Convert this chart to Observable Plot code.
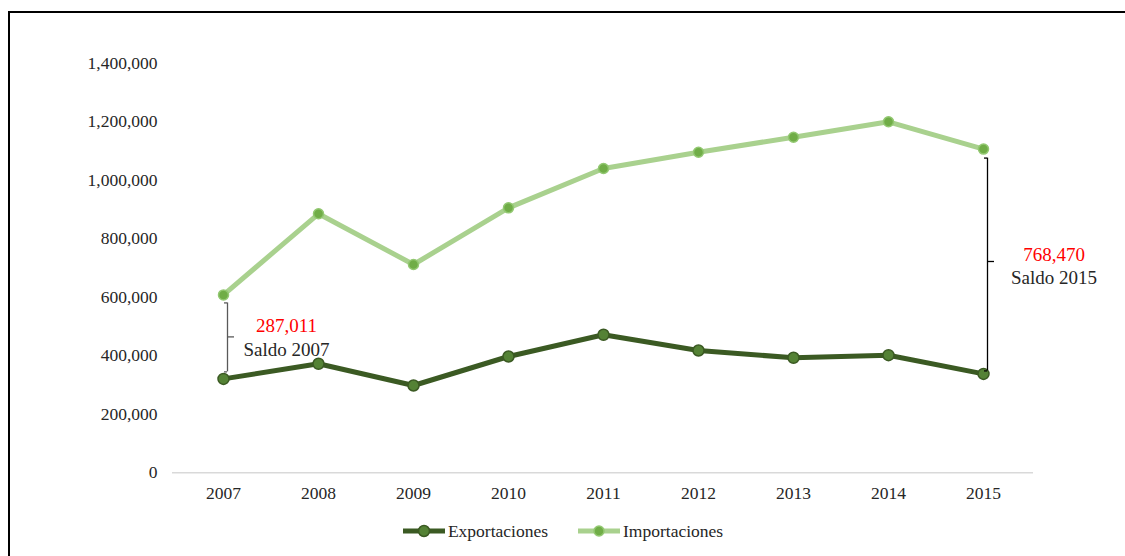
<!DOCTYPE html>
<html>
<head>
<meta charset="utf-8">
<script src="https://cdn.jsdelivr.net/npm/d3@7"></script>
<script src="https://cdn.jsdelivr.net/npm/@observablehq/plot@0.6"></script>
<style>
  html, body { margin: 0; padding: 0; background: #fff; }
  #page { position: relative; width: 1125px; height: 556px; overflow: hidden; font-family: "Liberation Serif", "Times New Roman", serif; }
  #frame { position: absolute; left: 8px; top: 11px; width: 1125px; height: 560px; border-top: 2px solid #000; border-left: 2px solid #000; pointer-events: none; }
  #chart { position: absolute; left: 0; top: 0; }
  #legend { position: absolute; left: 0; top: 519px; width: 1125px; height: 24px; display: flex; justify-content: center; align-items: center; gap: 29px; font-size: 17.5px; color: #262626; }
  .item { display: flex; align-items: center; }
  .item svg { display: block; margin-right: 2px; }
</style>
</head>
<body>
<div id="page">
  <div id="chart"></div>
  <div id="legend"></div>
  <div id="frame"></div>
</div>
<script>
// Annual trade flows (thousands of US$), 2007–2015
const years = [2007, 2008, 2009, 2010, 2011, 2012, 2013, 2014, 2015];
const exportaciones = [321000, 372600, 298400, 397500, 471700, 418000, 393100, 402000, 338000];
const importaciones = [608011, 885300, 712000, 905700, 1040100, 1095800, 1147100, 1199700, 1106470];
const yTicks = [0, 200000, 400000, 600000, 800000, 1000000, 1200000, 1400000];
const seriesNames = ["Exportaciones", "Importaciones"];
const saldoYears = [2007, 2015];

const colors = {
  expLine: "#3b5a23", expDot: "#548235", expDotStroke: "#3b5a23",
  impLine: "#a9d18e", impDot: "#70ad47", impDotStroke: "#93c872"
};

const rows = years.map((year, i) => ({year, exp: exportaciones[i], imp: importaciones[i]}));
const saldo = saldoYears.map(year => {
  const r = rows.find(d => d.year === year);
  return {year, imp: r.imp, exp: r.exp, mid: (r.imp + r.exp) / 2, value: r.imp - r.exp};
});
const fmt = d3.format(",");

// Bracket spanning the trade balance of one year, with its label
function bracket(year, o) {
  const data = saldo.filter(d => d.year === year);
  return [
    Plot.ruleX(data, {x: "year", y1: "imp", y2: "exp", dx: 4, insetTop: o.insetTop, insetBottom: o.insetBottom, stroke: o.color, strokeWidth: 1.3}),
    Plot.ruleY(data, {x1: "year", x2: "year", y: "imp", dx: 4, dy: o.insetTop, insetLeft: -3, stroke: o.color, strokeWidth: 1.3}),
    Plot.ruleY(data, {x1: "year", x2: "year", y: "exp", dx: 4, dy: -o.insetBottom, insetLeft: -3, stroke: o.color, strokeWidth: 1.3}),
    Plot.ruleY(data, {x1: "year", x2: "year", y: "mid", dx: 4, insetRight: -7, stroke: o.color, strokeWidth: 1.3}),
    Plot.text(data, {x: "year", y: "mid", text: d => fmt(d.value), dx: o.labelDx, dy: o.valueDy, fill: "#ff0000", fontSize: 19, textAnchor: "middle"}),
    Plot.text(data, {x: "year", y: "mid", text: d => `Saldo ${d.year}`, dx: o.labelDx, dy: o.captionDy, fill: "#262626", fontSize: 19, textAnchor: "middle"})
  ];
}

const chart = Plot.plot({
  width: 1125,
  height: 510,
  marginLeft: 172,
  marginRight: 92,
  marginTop: 62.7,
  marginBottom: 37.7,
  style: {fontFamily: "'Liberation Serif', 'Times New Roman', serif", fontSize: "17.5px", color: "#262626", background: "transparent"},
  x: {type: "point", domain: years, padding: 0.5},
  y: {domain: [0, 1400000]},
  marks: [
    Plot.ruleY([0], {stroke: "#d9d9d9", strokeWidth: 1.5}),
    Plot.axisY({ticks: yTicks, tickSize: 0, tickPadding: 15, tickFormat: fmt, label: null}),
    Plot.axisX({tickSize: 0, tickPadding: 14, tickFormat: d => `${d}`, label: null}),
    Plot.line(rows, {x: "year", y: "imp", stroke: colors.impLine, strokeWidth: 5}),
    Plot.dot(rows, {x: "year", y: "imp", r: 5, fill: colors.impDot, stroke: colors.impDotStroke, strokeWidth: 1.5}),
    Plot.line(rows, {x: "year", y: "exp", stroke: colors.expLine, strokeWidth: 5}),
    Plot.dot(rows, {x: "year", y: "exp", r: 5.5, fill: colors.expDot, stroke: colors.expDotStroke, strokeWidth: 1.5}),
    ...bracket(2007, {color: "#595959", insetTop: 8, insetBottom: 7, labelDx: 63, valueDy: -10.5, captionDy: 13}),
    ...bracket(2015, {color: "#000000", insetTop: 9, insetBottom: 3, labelDx: 70.5, valueDy: -6.5, captionDy: 16.5})
  ]
});
document.getElementById("chart").append(chart);

// Legend: line-and-marker swatch per series
const swatches = [
  {line: colors.expLine, dot: colors.expDot, dotStroke: colors.expDotStroke, r: 5.5},
  {line: colors.impLine, dot: colors.impDot, dotStroke: colors.impDotStroke, r: 5}
];
const legend = document.getElementById("legend");
seriesNames.forEach((name, i) => {
  const s = swatches[i];
  const item = document.createElement("div");
  item.className = "item";
  item.innerHTML = `<svg width="44" height="16" viewBox="0 0 44 16">
      <line x1="1" x2="43" y1="8" y2="8" stroke="${s.line}" stroke-width="5"/>
      <circle cx="22" cy="8" r="${s.r}" fill="${s.dot}" stroke="${s.dotStroke}" stroke-width="1.5"/>
    </svg><span>${name}</span>`;
  legend.append(item);
});
</script>
</body>
</html>
